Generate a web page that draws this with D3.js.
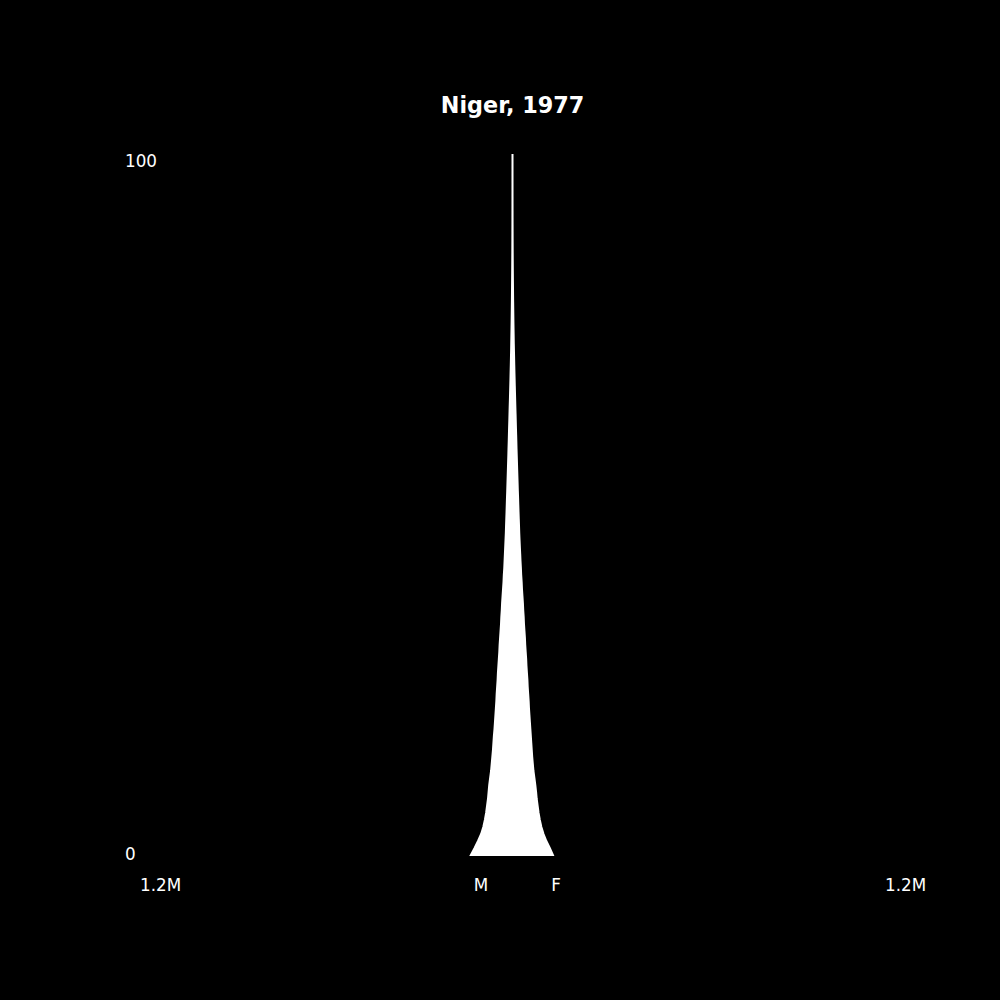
<!DOCTYPE html>
<html>
<head>
<meta charset="utf-8">
<script src="https://cdn.jsdelivr.net/npm/d3@7"></script>
<style>
  body { margin: 0; background: #000; }
  svg { display: block; }
  text { font-family: "DejaVu Sans", sans-serif; fill: #fff; }
</style>
</head>
<body>
<div id="chart"></div>
<script>
// population by single year of age, Niger 1977 (people)
var title = "Niger, 1977";
var ages = d3.range(0, 101);
var male = [
  134000, 122000, 111000, 101000, 94000, 89000, 85000, 82000, 79000, 77000,
  75000, 72000, 69000, 67000, 65000, 63000, 61500, 60000, 58000, 56500,
  55000, 53500, 52000, 51000, 49500, 48000, 47000, 45500, 44000, 42500,
  41500, 40000, 38500, 37000, 36000, 34500, 33500, 32000, 30500, 29000,
  28000, 26500, 25500, 24500, 23500, 22500, 21500, 20800, 20000, 19200,
  18500, 17800, 17000, 16300, 15600, 14900, 14200, 13500, 12900, 12200,
  11600, 11000, 10300, 9700, 9100, 8400, 7800, 7200, 6600, 6100,
  5500, 5000, 4500, 4100, 3700, 3300, 2900, 2600, 2300, 2000,
  1750, 1500, 1300, 1100, 900, 750, 600, 500, 400, 320,
  250, 190, 150, 110, 80, 60, 40, 30, 20, 10, 10
];
var female = [
  130000, 120000, 109000, 100000, 93000, 88000, 84000, 81000, 78000, 76000,
  73500, 70500, 67500, 65500, 63500, 62000, 60500, 59000, 57500, 56000,
  54500, 53000, 52000, 50500, 49000, 48000, 46500, 45000, 44000, 42500,
  41000, 40000, 38500, 37000, 36000, 34500, 33500, 32000, 30500, 29500,
  28000, 27000, 25800, 24800, 23700, 22700, 21700, 21000, 20200, 19400,
  18700, 18000, 17200, 16500, 15800, 15100, 14400, 13700, 13000, 12400,
  11800, 11100, 10500, 9900, 9200, 8600, 8000, 7400, 6800, 6200,
  5700, 5200, 4700, 4200, 3800, 3400, 3000, 2700, 2400, 2100,
  1800, 1600, 1350, 1150, 950, 800, 650, 520, 420, 340,
  270, 200, 160, 120, 90, 60, 45, 30, 20, 12, 10
];
var xTickValues = [-1200000, 1200000];
var sexLabels = ["M", "F"];
var sexLabelValues = [-125000, 125000];
var yTickValues = [0, 100];

var W = 1000, H = 1000;

var svg = d3.select("#chart").append("svg")
    .attr("width", W)
    .attr("height", H);

svg.append("rect")
    .attr("width", W)
    .attr("height", H)
    .attr("fill", "#000");

var x = d3.scaleLinear().domain([-1200000, 1200000]).range([140, 885]);
var y = d3.scaleLinear().domain([0, 100]).range([855, 155]);

var rows = ages.map(function (a, i) {
    return {age: a, m: male[i], f: female[i]};
});

var area = d3.area()
    .x0(function (d) { return x(-d.m); })
    .x1(function (d) { return x(d.f); })
    .y(function (d) { return y(d.age); });

svg.append("path")
    .datum(rows)
    .attr("d", area)
    .attr("fill", "#fff")
    .attr("stroke", "#fff")
    .attr("stroke-width", 2);

// title
svg.append("text")
    .attr("x", x(0))
    .attr("y", 112.5)
    .attr("text-anchor", "middle")
    .style("font-size", "22.3px")
    .style("font-weight", "bold")
    .text(title);

// y labels
svg.selectAll(".ylab")
    .data(yTickValues)
    .enter()
    .append("text")
    .attr("class", "ylab")
    .attr("x", 125)
    .attr("y", function (d) { return d === 100 ? y(d) + 12 : y(d) + 5; })
    .style("font-size", "16.8px")
    .text(function (d) { return d; });

// x labels
svg.selectAll(".xlab")
    .data(xTickValues)
    .enter()
    .append("text")
    .attr("class", "xlab")
    .attr("x", function (d) { return x(d); })
    .attr("y", 890.5)
    .style("font-size", "16.8px")
    .text(function (d) { return d3.format(".2~s")(Math.abs(d)); });

svg.selectAll(".sexlab")
    .data(sexLabels)
    .enter()
    .append("text")
    .attr("class", "sexlab")
    .attr("x", function (d, i) { return x(sexLabelValues[i]); })
    .attr("y", 890.5)
    .style("font-size", "16.8px")
    .text(function (d) { return d; });
</script>
</body>
</html>
